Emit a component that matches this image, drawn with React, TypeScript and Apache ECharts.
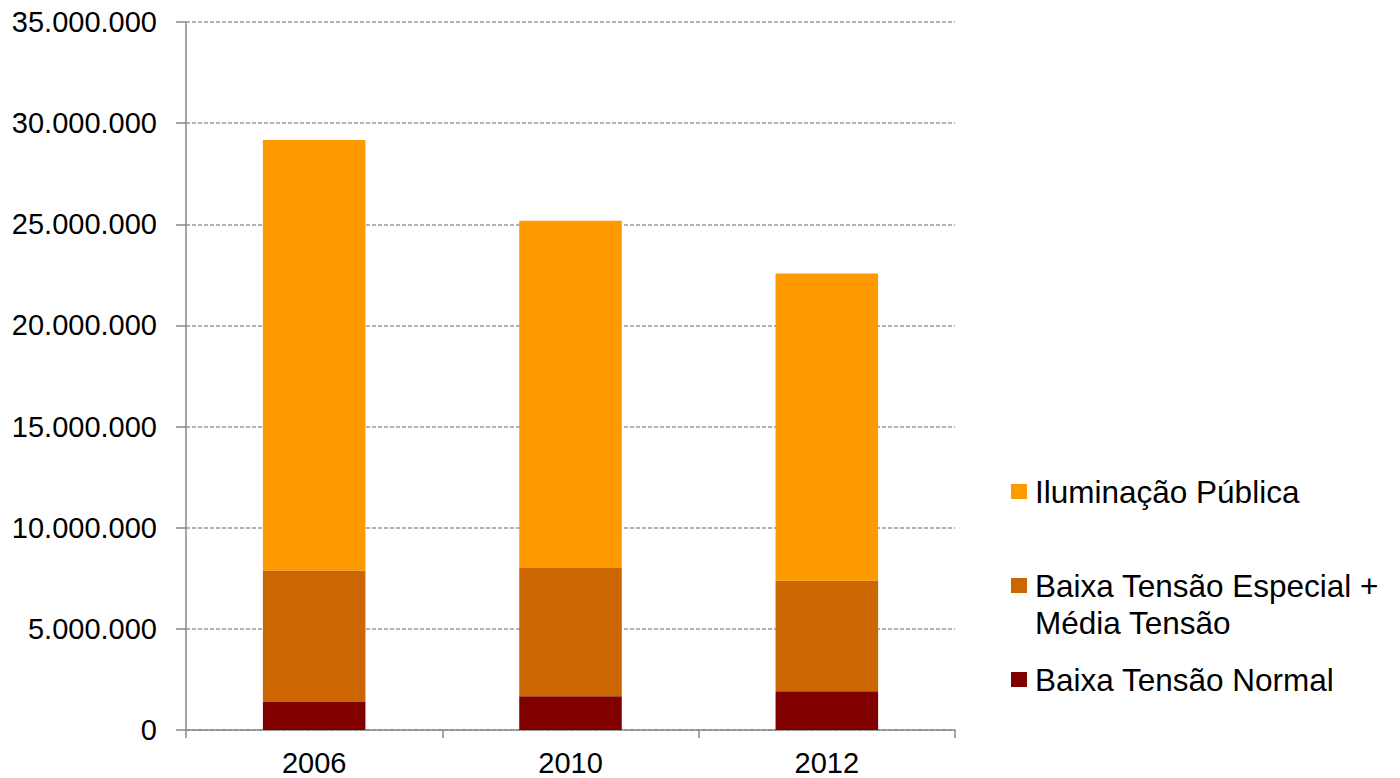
import React, { useEffect, useRef } from "react";
import * as echarts from "echarts";

const categories = ["2006", "2010", "2012"];
const baixaNormal = [1380000, 1670000, 1920000];
const baixaEspecialMedia = [6500000, 6340000, 5460000];
const iluminacaoPublica = [21290000, 17170000, 15190000];

const seriesNames = [
  "Baixa Tensão Normal",
  "Baixa Tensão Especial + Média Tensão",
  "Iluminação Pública",
];
const colors = ["#800000", "#CC6600", "#FF9900"];

const fmt = (v: number) => String(Math.round(v)).replace(/\B(?=(\d{3})+(?!\d))/g, ".");

export default function App() {
  const ref = useRef<HTMLDivElement>(null);
  useEffect(() => {
    if (!ref.current) return;
    const chart = echarts.init(ref.current, undefined, { renderer: "svg" });
    const font = "'Liberation Sans', Arial, sans-serif";
    const legendBase = {
      orient: "vertical" as const,
      left: 1006,
      itemWidth: 16,
      itemHeight: 15,
      icon: "rect",
      selectedMode: false,
    };
    const legendText = { fontSize: 31.5, lineHeight: 37, color: "#000", fontFamily: font, padding: [0, 0, 0, 3] };
    chart.setOption({
      animation: false,
      backgroundColor: "#ffffff",
      textStyle: { fontFamily: font },
      grid: { left: 186, right: 445, top: 22, bottom: 48, containLabel: false },
      legend: [
        { ...legendBase, top: 468, data: [seriesNames[2]], textStyle: legendText },
        {
          ...legendBase,
          top: 525,
          data: [seriesNames[1]],
          formatter: () => "\nBaixa Tensão Especial +\nMédia Tensão",
          textStyle: legendText,
        },
        { ...legendBase, top: 656, data: [seriesNames[0]], textStyle: legendText },
      ],
      xAxis: {
        type: "category",
        data: categories,
        boundaryGap: true,
        axisLine: { show: true, lineStyle: { color: "#888888", width: 1.5 } },
        axisTick: { show: true, length: 8, lineStyle: { color: "#888888", width: 1.5 } },
        axisLabel: { fontSize: 29, color: "#000", margin: 18, fontFamily: font },
      },
      yAxis: {
        type: "value",
        min: 0,
        max: 35000000,
        interval: 5000000,
        axisLine: { show: true, lineStyle: { color: "#888888", width: 1.5 } },
        axisTick: { show: true, length: 10, lineStyle: { color: "#888888", width: 1.5 } },
        axisLabel: { fontSize: 29, color: "#000", margin: 29, fontFamily: font, formatter: (v: number) => fmt(v) },
        splitLine: { show: true, lineStyle: { color: "#999999", type: [4, 2], width: 1.5 } },
      },
      series: [
        { name: seriesNames[0], type: "bar", stack: "total", data: baixaNormal, barWidth: "40%", itemStyle: { color: colors[0] } },
        { name: seriesNames[1], type: "bar", stack: "total", data: baixaEspecialMedia, barWidth: "40%", itemStyle: { color: colors[1] } },
        { name: seriesNames[2], type: "bar", stack: "total", data: iluminacaoPublica, barWidth: "40%", itemStyle: { color: colors[2] } },
      ],
    });
    return () => chart.dispose();
  }, []);
  return (
    <div
      ref={ref}
      style={{ position: "absolute", left: 0, top: 0, width: 1400, height: 778 }}
    />
  );
}
